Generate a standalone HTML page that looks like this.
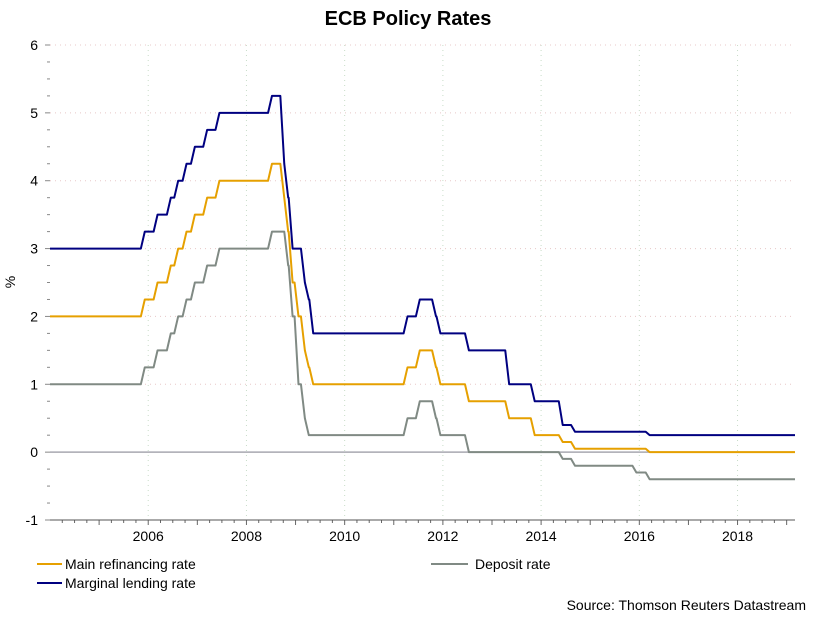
<!DOCTYPE html>
<html><head><meta charset="utf-8"><style>
body{margin:0;background:#fff;font-family:"Liberation Sans",sans-serif;}
svg text{font-family:"Liberation Sans",sans-serif;}
</style></head><body>
<svg id="c" width="815" height="614">
<text x="408" y="25" text-anchor="middle" font-size="20" font-weight="bold">ECB Policy Rates</text>
<text x="15" y="282" font-size="14" text-anchor="middle" transform="rotate(-90 15 282)">%</text>
<g id="grid"></g><g id="axes"></g><g id="series"></g>
<g>
<line x1="37" y1="564" x2="62" y2="564" stroke="#e6a000" stroke-width="2"/>
<text x="65" y="569" font-size="14">Main refinancing rate</text>
<line x1="37" y1="583" x2="62" y2="583" stroke="#000080" stroke-width="2"/>
<text x="65" y="588" font-size="14">Marginal lending rate</text>
<line x1="431" y1="564" x2="468" y2="564" stroke="#808a84" stroke-width="2"/>
<text x="475" y="569" font-size="14">Deposit rate</text>
</g>
<text x="806" y="610" font-size="14" text-anchor="end">Source: Thomson Reuters Datastream</text>
</svg>
<script>
const changeDates=[2004.0,2005.93,2006.19,2006.46,2006.61,2006.78,2006.95,2007.2,2007.45,2008.52,2008.77,2008.85,2008.94,2009.06,2009.19,2009.27,2009.36,2011.28,2011.53,2011.86,2011.95,2012.53,2013.35,2013.87,2014.44,2014.69,2015.94,2016.21,2019.17];
const mainRefi=[2.00,2.25,2.50,2.75,3.00,3.25,3.50,3.75,4.00,4.25,3.75,3.25,2.50,2.00,1.50,1.25,1.00,1.25,1.50,1.25,1.00,0.75,0.50,0.25,0.15,0.05,0.05,0.00,0.00];
const marginal=[3.00,3.25,3.50,3.75,4.00,4.25,4.50,4.75,5.00,5.25,4.25,3.75,3.00,3.00,2.50,2.25,1.75,2.00,2.25,2.00,1.75,1.50,1.00,0.75,0.40,0.30,0.30,0.25,0.25];
const deposit=[1.00,1.25,1.50,1.75,2.00,2.25,2.50,2.75,3.00,3.25,3.25,2.75,2.00,1.00,0.50,0.25,0.25,0.50,0.75,0.50,0.25,0.00,0.00,0.00,-0.10,-0.20,-0.30,-0.40,-0.40];
const yTicks=[-1,0,1,2,3,4,5,6];
const xTicks=[2006,2008,2010,2012,2014,2016,2018];
const X0=50,X1=795,Y0=45,Y1=520,ymin=-1,ymax=6,xmin=2004.0,xmax=2019.17;
const xs=v=>X0+(v-xmin)/(xmax-xmin)*(X1-X0);
const ys=v=>Y1-(v-ymin)/(ymax-ymin)*(Y1-Y0);
const NS="http://www.w3.org/2000/svg";
function mk(t,p,a){const e=document.createElementNS(NS,t);for(const k in a)e.setAttribute(k,a[k]);p.appendChild(e);return e;}
const grid=document.getElementById('grid'),axes=document.getElementById('axes'),ser=document.getElementById('series');
yTicks.forEach(v=>{
  if(v>-1&&v!==0){const l=mk('line',grid,{x1:X0,x2:X1,y1:ys(v),y2:ys(v),stroke:'#e8c8c8','stroke-dasharray':'1,4'});
  
  }
  const t=mk('text',axes,{x:38,y:ys(v)+5,'text-anchor':'end','font-size':14});t.textContent=v;
  
  
});
xTicks.forEach(v=>{
  const l=mk('line',grid,{x1:xs(v),x2:xs(v),y1:Y0,y2:Y1,stroke:'#c8dcc8','stroke-dasharray':'1,4'});
  
  
  const t=mk('text',axes,{x:xs(v),y:541,'text-anchor':'middle','font-size':14});t.textContent=v;
  
  
});
for(let y=2004.25;y<xmax;y+=0.25){const l=mk('line',axes,{x1:xs(y),x2:xs(y),y1:Y1,y2:Y1+(Math.abs(y-Math.round(y))<0.01?5:3),stroke:'#666'});

}
for(let v=-1;v<=6;v+=0.25){const l=mk('line',axes,{x1:X0-(Number.isInteger(v)?5:3),x2:X0,y1:ys(v),y2:ys(v),stroke:'#888'});

}
const z=mk('line',axes,{x1:X0,x2:X1,y1:ys(0),y2:ys(0),stroke:'#a8a8b0','stroke-width':1.5});


const xa=mk('line',axes,{x1:X0,x2:X1,y1:Y1,y2:Y1,stroke:'#555'});


function draw(vals,color,name){
  let pts=[];
  for(let i=0;i<changeDates.length;i++){
    if(i>0)pts.push([xs(Math.max(changeDates[i]-0.08,changeDates[i-1])),ys(vals[i-1])]);
    pts.push([xs(changeDates[i]),ys(vals[i])]);
  }
  const p=mk('polyline',ser,{points:pts.map(q=>q.join(',')).join(' '),fill:'none',stroke:color,'stroke-width':2,'stroke-linejoin':'round'});
  
  
}
draw(deposit,'#808a84','deposit-rate-line');
draw(mainRefi,'#e6a000','main-refinancing-rate-line');
draw(marginal,'#000080','marginal-lending-rate-line');
</script>
</body></html>
